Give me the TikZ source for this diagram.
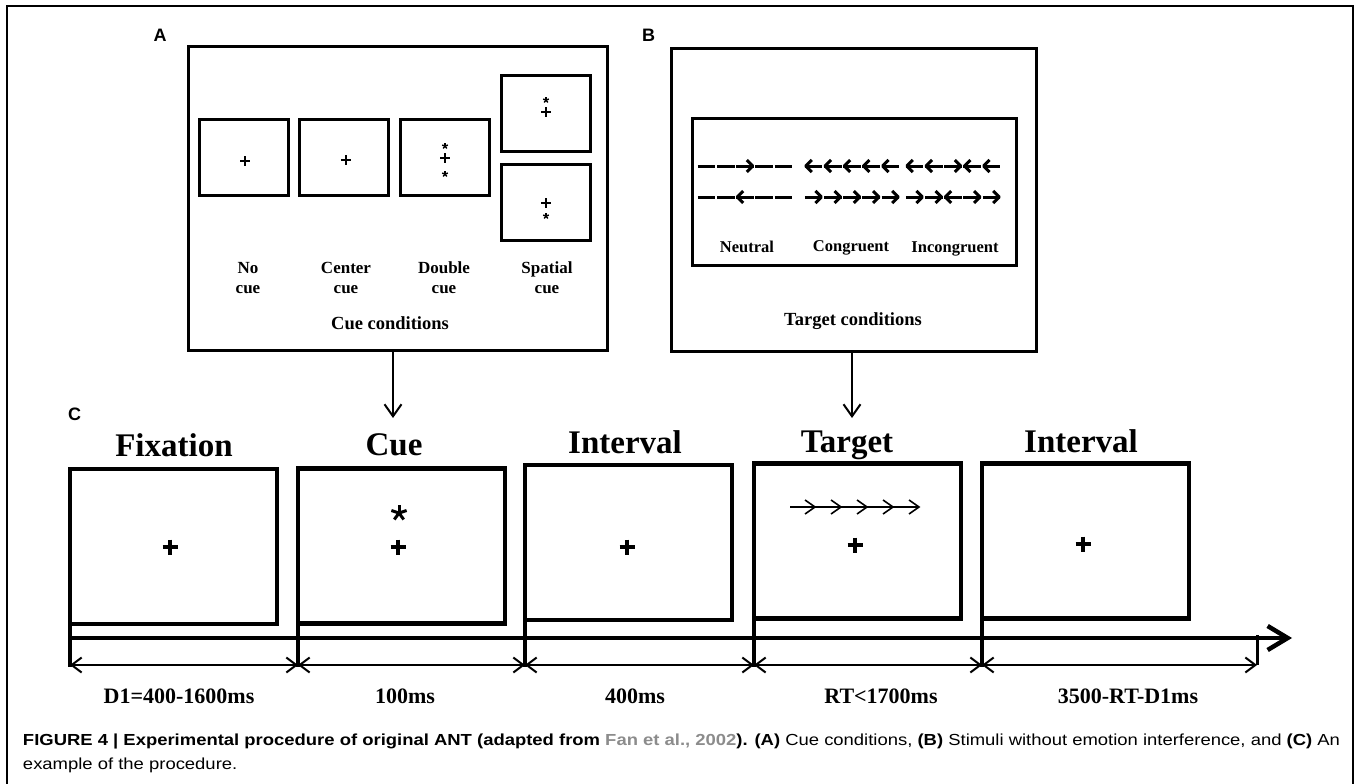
\documentclass[tikz,border=0pt]{standalone}
\usepackage{fontspec}
\usepackage{graphicx}
\setmainfont{Liberation Serif}
\newfontfamily\capfont{Liberation Sans}
\usetikzlibrary{arrows.meta}
\definecolor{capgray}{RGB}{140,140,140}
\newcommand\setfs[2]{\fontsize{#1}{#2}\selectfont}
\newsavebox\capboxA
\newlength\capw
\newcommand\flitem[3]{%
  \draw[flk] ({#1-8.8},#2) -- ({#1+8.8},#2);
  \if r#3\draw[flk, line join=round] ({#1+1.8},{#2-6}) -- ({#1+7.8},#2) -- ({#1+1.8},{#2+6});\fi
  \if l#3\draw[flk, line join=round] ({#1-1.8},{#2-6}) -- ({#1-7.8},#2) -- ({#1-1.8},{#2+6});\fi
}
\newcommand\flrow[3]{\foreach \t [count=\i from 0] in {#3} {\flitem{#1+9.6+19.2*\i}{#2}{\t}}}
\tikzset{
  every node/.style={inner sep=0pt, outer sep=0pt},
  outerframe/.style={line width=1.5pt},
  panlbl/.style={font=\capfont\bfseries\setfs{18}{20}, anchor=base},
  bigbox/.style={draw, line width=3pt},
  smallbox/.style={draw, line width=3.3pt, minimum width=89pt, minimum height=76pt},
  albl/.style={font=\bfseries\setfs{17}{20}, anchor=base},
  condlbl/.style={font=\bfseries\setfs{18.5}{20}, anchor=base},
  blbl/.style={font=\bfseries\setfs{16.5}{20}, anchor=base},
  ttl/.style={font=\bfseries\setfs{33}{36}, anchor=base},
  cbox/.style={draw, line width=4.5pt, minimum width=207pt, minimum height=155pt},
  dimlbl/.style={font=\bfseries\setfs{22}{24}, anchor=base},
  flk/.style={line width=3pt},
  varr/.style={line width=2pt, -{Straight Barb[length=12pt,width=17pt]}},
  tline/.style={line width=4.5pt, -{Straight Barb[length=20pt,width=24pt]}},
  tickln/.style={line width=4pt},
  dimln/.style={line width=2pt, {Straight Barb[length=10pt,width=15pt]}-{Straight Barb[length=10pt,width=15pt]}},
  tarr/.style={line width=1.6pt},
  pics/plusS/.style={code={\draw[line width=2.8pt] (-5,0) -- (5,0) (0,-5) -- (0,5);}},
  pics/plusL/.style={code={\draw[line width=3.3pt] (-7.5,0) -- (7.5,0) (0,-7.5) -- (0,7.5);}},
  pics/starS/.style={code={\foreach \a in {-90,-18,-162,54,126} \draw[line width=1.4pt] (0,0) -- (\a:3);}},
  pics/starL/.style={code={\foreach \a in {-90,-18,-162,54,126} \draw[line width=3pt] (0,0) -- (\a:8);}},
}
\begin{document}
\sbox\capboxA{\capfont\setfs{16}{20}\textbf{FIGURE 4 | Experimental procedure of original ANT (adapted from \textcolor{capgray}{Fan et al., 2002}). (A)} Cue conditions, \textbf{(B)} Stimuli without emotion interference, and \textbf{(C)} An}%
\setlength\capw{\wd\capboxA}%
\pgfmathsetmacro\capsx{1317/\capw}%
\begin{tikzpicture}[x=1pt,y=-1pt]
\useasboundingbox (0,0) rectangle (1360,784);
\draw[outerframe] (7,784) -- (7,6) -- (1353,6) -- (1353,784);

% ---------------- Panel A
\node[panlbl] (labA) at (160,42) {A};
\node[bigbox, minimum width=419pt, minimum height=304pt] (Abox) at (398,198.5) {};
\node[smallbox] (a1) at (244,157.5) {};
\node[smallbox] (a2) at (344,157.5) {};
\node[smallbox] (a3) at (445,157.5) {};
\node[smallbox] (s1) at (546,113.5) {};
\node[smallbox] (s2) at (546,202.5) {};
\pic at (245,161) {plusS};
\pic at (346,160) {plusS};
\pic at (445,158) {plusS};
\pic at (445,146) {starS};
\pic at (445,174) {starS};
\pic at (546,112) {plusS};
\pic at (546,100) {starS};
\pic at (546,203) {plusS};
\pic at (546,216) {starS};
\node[albl] (l1a) at (248,273) {No};
\node[albl] (l1b) at (248,293) {cue};
\node[albl] (l2a) at (346,273) {Center};
\node[albl] (l2b) at (346,293) {cue};
\node[albl] (l3a) at (444,273) {Double};
\node[albl] (l3b) at (444,293) {cue};
\node[albl] (l4a) at (547,273) {Spatial};
\node[albl] (l4b) at (547,293) {cue};
\node[condlbl] (cuecond) at (390,329) {Cue conditions};

% ---------------- Panel B
\node[panlbl] (labB) at (648.5,42) {B};
\node[bigbox, minimum width=365pt, minimum height=303pt] (Bbox) at (854,200) {};
\node[bigbox, minimum width=324pt, minimum height=147pt] (Binner) at (854.5,192) {};
\flrow{697}{166}{n,n,r,n,n}
\flrow{804}{166}{l,l,l,l,l}
\flrow{905}{166}{l,l,r,l,l}
\flrow{697}{197}{n,n,l,n,n}
\flrow{804}{197}{r,r,r,r,r}
\flrow{905}{197}{r,r,l,r,r}
\node[blbl] (neu) at (747,252) {Neutral};
\node[blbl] (con) at (851,251) {Congruent};
\node[blbl] (inc) at (955,252) {Incongruent};
\node[condlbl] (tarcond) at (853,325) {Target conditions};

% ---------------- Panel C
\node[panlbl] (labC) at (74.5,420) {C};
\node[ttl] (t1) at (174,456) {Fixation};
\node[ttl] (t2) at (394,455) {Cue};
\node[ttl] (t3) at (625,453) {Interval};
\node[ttl] (t4) at (847,452) {Target};
\node[ttl] (t5) at (1081,452) {Interval};
\node[cbox] (c1) at (173.5,546.5) {};
\node[cbox] (c2) at (401.5,546) {};
\node[cbox] (c3) at (628.5,542.5) {};
\node[cbox] (c4) at (857.5,541) {};
\node[cbox] (c5) at (1085.5,541) {};
\pic at (170,547) {plusL};
\pic at (398,547) {plusL};
\pic at (399,513) {starL};
\pic at (627,547) {plusL};
\pic at (855,545) {plusL};
\pic at (1083,544) {plusL};
\draw[tarr] (790,507) -- (919,507);
\foreach \k in {0,...,4} {
  \draw[tarr] ({815+26*\k-10},500) -- ({815+26*\k},507) -- ({815+26*\k-10},514);
}

% connectors from A and B
\coordinate (aTip) at (393,418);
\coordinate (bTip) at (852,418);
\draw[varr] (Abox.south -| aTip) -- (aTip);
\draw[varr] (Bbox.south -| bTip) -- (bTip);

% timeline
\coordinate (tlS) at (70,638);
\coordinate (tlE) at (1292,638);
\coordinate (dimy) at (0,665);
\coordinate (tickEnd) at (0,667);
\coordinate (endT) at (1257,635);
\coordinate (endB) at (1257,665);
\draw[tline] (tlS) -- (tlE);
\foreach \n in {c1,c2,c3,c4,c5} {
  \draw[tickln] (\n.south west) -- (\n.south west |- tickEnd);
}
\draw[line width=3pt] (endT) -- (endB);
\draw[dimln] (c1.south west |- dimy) -- (c2.south west |- dimy);
\draw[dimln] (c2.south west |- dimy) -- (c3.south west |- dimy);
\draw[dimln] (c3.south west |- dimy) -- (c4.south west |- dimy);
\draw[dimln] (c4.south west |- dimy) -- (c5.south west |- dimy);
\draw[dimln] (c5.south west |- dimy) -- (endB |- dimy);
\node[dimlbl] (d1) at (179,703) {D1=400-1600ms};
\node[dimlbl] (d2) at (405,703) {100ms};
\node[dimlbl] (d3) at (635,703) {400ms};
\node[dimlbl] (d4) at (881,703) {RT<1700ms};
\node[dimlbl] (d5) at (1128,703) {3500-RT-D1ms};

% caption
\node[anchor=base west] (cap1) at (23,745) {\scalebox{\capsx}[1]{\usebox\capboxA}};
\node[anchor=base west] (cap2) at (23,769) {\scalebox{\capsx}[1]{\capfont\setfs{16}{20}example of the procedure.}};
\end{tikzpicture}
\end{document}
